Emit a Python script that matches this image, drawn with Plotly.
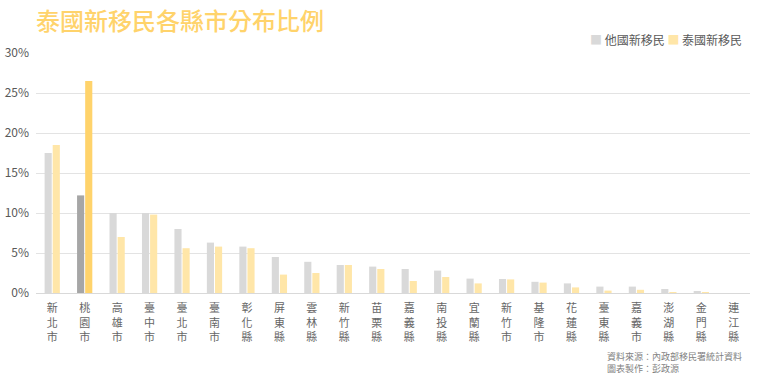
import plotly.graph_objects as go

counties = ["新北市", "桃園市", "高雄市", "臺中市", "臺北市", "臺南市", "彰化縣", "屏東縣",
            "雲林縣", "新竹縣", "苗栗縣", "嘉義縣", "南投縣", "宜蘭縣", "新竹市", "基隆市",
            "花蓮縣", "臺東縣", "嘉義市", "澎湖縣", "金門縣", "連江縣"]
other_pct = [17.5, 12.2, 10.0, 10.0, 8.0, 6.3, 5.8, 4.5, 3.9, 3.5, 3.3, 3.0, 2.8, 1.8, 1.75,
             1.4, 1.2, 0.8, 0.8, 0.5, 0.17, 0.0]
thai_pct = [18.5, 26.5, 7.0, 9.8, 5.6, 5.8, 5.6, 2.3, 2.5, 3.5, 3.0, 1.5, 2.0, 1.2, 1.7,
            1.3, 0.7, 0.3, 0.4, 0.05, 0.03, 0.0]
y_ticks = [0, 5, 10, 15, 20, 25, 30]
y_tick_labels = ["0%", "5%", "10%", "15%", "20%", "25%", "30%"]
series_names = ["他國新移民", "泰國新移民"]

highlight = "桃園市"
gray_base, gray_hi = "#d9d9d9", "#a6a6a6"
yellow_base, yellow_hi = "#ffe6a8", "#ffd36b"
gray_colors = [gray_hi if c == highlight else gray_base for c in counties]
yellow_colors = [yellow_hi if c == highlight else yellow_base for c in counties]
tick_text = ["<br>".join(list(c)) for c in counties]

font = "Noto Sans CJK TC, Noto Sans, sans-serif"
tick_font = "Liberation Sans, Noto Sans CJK TC, sans-serif"

fig = go.Figure()
fig.add_trace(go.Bar(x=counties, y=other_pct, name=series_names[0], marker_color=gray_colors,
                     marker_line_width=0, showlegend=False))
fig.add_trace(go.Bar(x=counties, y=thai_pct, name=series_names[1], marker_color=yellow_colors,
                     marker_line_width=0, showlegend=False))

L, R, T, B = 36, 20, 53, 83
W, H = 770, 376
pw, ph = W - L - R, H - T - B

fig.update_layout(
    width=W, height=H,
    margin=dict(l=L, r=R, t=T, b=B, autoexpand=False),
    paper_bgcolor="white", plot_bgcolor="white",
    font=dict(family=font, color="#595959", size=12),
    barmode="group", bargap=0.5, bargroupgap=0.12,
    title=dict(text="泰國新移民各縣市分布比例", x=36 / W, xanchor="left",
               y=1 - 22 / H, yanchor="middle",
               font=dict(size=24, color="#ffd36b", family=font, weight=500)),
    showlegend=False,
)
fig.update_xaxes(tickmode="array", tickvals=counties, ticktext=tick_text, automargin=False,
                 tickfont=dict(size=11, color="#666666", family=tick_font), showgrid=False,
                 showline=True, linecolor="#d9d9d9", ticks="", ticklabelstandoff=5)
fig.update_yaxes(range=[0, 30], tickvals=y_ticks, ticktext=y_tick_labels, automargin=False,
                 showgrid=True, gridcolor="#e3e3e3", zeroline=False,
                 tickfont=dict(size=12, color="#595959"), ticks="", ticklabelstandoff=6)

legend_text = (f"<span style='color:{gray_base}'>■</span> {series_names[0]} "
               f"<span style='color:{yellow_base}'>■</span> {series_names[1]}")
fig.add_annotation(text=legend_text, xref="paper", yref="paper",
                   x=(744 - L) / pw, y=(H - 40 - B) / ph, xanchor="right", yanchor="middle",
                   showarrow=False, font=dict(size=12, color="#595959"))

fig.add_annotation(text="資料來源：內政部移民署統計資料<br>圖表製作：彭政源",
                   xref="paper", yref="paper", x=(605 - L) / pw, y=(H - 348 - B) / ph,
                   xanchor="left", yanchor="top", align="left", showarrow=False,
                   font=dict(size=9, color="#7f7f7f"))

fig.write_html("out.html", config={"displayModeBar": False},
               post_script="document.body.style.margin='0';")
